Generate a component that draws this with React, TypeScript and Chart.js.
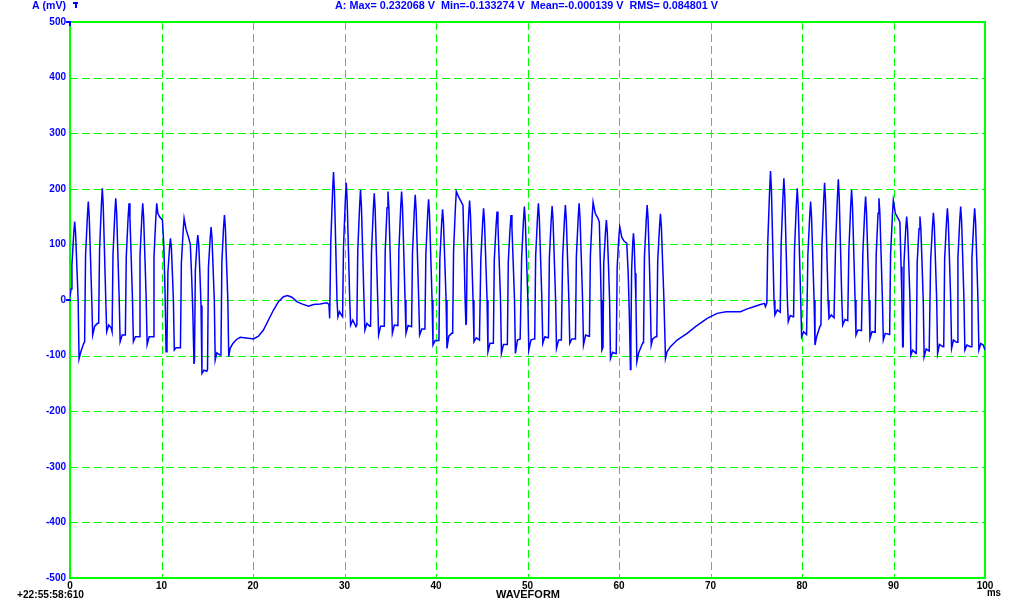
import React, { useEffect, useRef } from "react";
import { Chart, registerables } from "chart.js";

Chart.register(...registerables);

// ---- data: [time in ms, amplitude in mV] ----
const burst1: [number, number][] = [
  [0, 5], [0.12, 20],
  [0.21, 63], [0.41, 120], [0.51, 141], [0.61, 120], [0.76, 56], [0.89, 0], [0.99, -106], [1.2, -92], [1.45, -80],
  [1.6, -75], [1.7, 80], [1.9, 150], [2.0, 177], [2.1, 150], [2.25, 71], [2.38, 0], [2.48, -63], [2.7, -47], [3.0, -42],
  [3.13, -42], [3.23, 90], [3.43, 171], [3.53, 201], [3.63, 171], [3.78, 80], [3.91, 0], [4.01, -57], [4.23, -45], [4.5, -50],
  [4.6, -57], [4.7, 82], [4.9, 156], [5.0, 183], [5.1, 156], [5.25, 73], [5.38, 0], [5.48, -75], [5.7, -63],
  [6.05, -63], [6.15, 78], [6.35, 148], [6.45, 174], [6.55, 148], [6.7, 70], [6.83, 0], [6.93, -75], [7.15, -66],
  [7.55, -66], [7.65, 78], [7.85, 148], [7.95, 174], [8.05, 148], [8.2, 70], [8.33, 0], [8.43, -80], [8.65, -66],
  [9.08, -66], [9.18, 78], [9.38, 148], [9.48, 174], [9.6, 156], [9.77, 150], [10.1, 144], [10.25, 100], [10.38, 20], [10.5, -93],
  [10.6, -80], [10.7, 50], [10.88, 94], [10.98, 111], [11.08, 94], [11.2, 44], [11.3, 0], [11.4, -90], [11.6, -86],
  [12.07, -86], [12.17, 66], [12.37, 125], [12.47, 147], [12.7, 126], [12.95, 113], [13.15, 100], [13.3, 40], [13.42, -20], [13.55, -115],
  [13.6, -110], [13.7, 53], [13.87, 100], [13.97, 117], [14.07, 100], [14.2, 47], [14.32, -10], [14.42, -132], [14.65, -126], [14.95, -128],
  [15.03, -125], [15.13, 59], [15.32, 111], [15.42, 131], [15.52, 111], [15.65, 52], [15.77, 0], [15.87, -108], [16.05, -95], [16.4, -99],
  [16.5, -96], [16.6, 69], [16.78, 130], [16.88, 153], [16.98, 130], [17.12, 61], [17.25, 0], [17.35, -102], [17.5, -87], [17.8, -78], [18.2, -71], [18.6, -67],
];

const quiet1: [number, number][] = [
  [19.5, -69], [20.05, -70], [20.6, -65], [21.14, -54], [21.69, -36], [22.24, -18], [22.78, -3], [23.33, 6],
  [23.77, 8], [24.25, 5], [24.79, -3], [25.34, -7], [26.07, -11], [26.61, -8], [27.34, -7], [28.07, -5],
  [28.3, -8], [28.38, -33],
];

const burst2: [number, number][] = [
  [28.5, 104], [28.7, 196], [28.8, 230], [28.9, 196], [29.05, 92], [29.18, 0], [29.28, -30], [29.45, -21], [29.7, -28],
  [29.79, -30], [29.89, 95], [30.09, 179], [30.19, 211], [30.29, 179], [30.44, 84], [30.57, 0], [30.67, -45], [30.9, -36], [31.25, -48],
  [31.35, -45], [31.45, 89], [31.65, 168], [31.75, 198], [31.85, 168], [32.0, 79], [32.13, 0], [32.23, -54], [32.45, -42], [32.75, -47],
  [32.85, -47], [32.95, 86], [33.15, 163], [33.25, 192], [33.35, 163], [33.5, 77], [33.63, 0], [33.73, -63], [33.95, -47],
  [34.35, -47], [34.45, 88], [34.65, 166], [34.75, 195], [34.85, 166], [35.0, 78], [35.13, 0], [35.23, -60], [35.45, -45],
  [35.84, -46], [35.94, 88], [36.14, 166], [36.24, 195], [36.34, 166], [36.49, 78], [36.62, 0], [36.72, -60], [36.95, -46],
  [37.33, -48], [37.43, 85], [37.63, 161], [37.73, 189], [37.83, 161], [37.98, 76], [38.11, 0], [38.21, -63], [38.45, -52],
  [38.79, -52], [38.89, 81], [39.09, 154], [39.19, 181], [39.29, 154], [39.44, 72], [39.57, 0], [39.67, -81], [39.9, -73],
  [40.32, -73], [40.42, 73], [40.62, 139], [40.72, 163], [40.82, 139], [40.97, 65], [41.1, 0], [41.2, -87], [41.4, -65], [41.7, -60],
  [41.82, -60], [41.92, 88], [42.12, 166], [42.22, 195], [42.48, 185], [42.75, 177], [42.95, 170], [43.08, 80], [43.18, 0], [43.27, -45],
  [43.32, -40], [43.4, 81], [43.57, 152], [43.67, 179], [43.77, 152], [43.92, 72], [44.05, 0], [44.15, -75], [44.4, -68], [44.75, -72],
  [44.8, -72], [44.9, 74], [45.1, 140], [45.2, 165], [45.3, 140], [45.45, 66], [45.58, 0], [45.68, -93], [45.9, -78], [46.2, -78],
  [46.27, -78], [46.37, 72], [46.57, 135], [46.67, 159], [46.77, 135], [46.92, 64], [47.05, 0], [47.15, -96], [47.37, -80], [47.7, -80],
  [47.8, -80], [47.9, 69], [48.1, 130], [48.2, 153], [48.3, 130], [48.45, 61], [48.58, 0], [48.68, -96], [48.9, -72], [49.2, -70],
  [49.26, -70], [49.36, 76], [49.56, 143], [49.66, 168], [49.76, 143], [49.91, 67], [50.04, 0], [50.14, -90], [50.37, -72], [50.7, -70],
  [50.79, -70], [50.89, 78], [51.09, 148], [51.19, 174], [51.29, 148], [51.44, 70], [51.57, 0], [51.67, -78], [51.9, -66], [52.2, -68],
  [52.29, -68], [52.39, 76], [52.59, 144], [52.69, 169], [52.79, 144], [52.94, 68], [53.07, 0], [53.17, -87], [53.4, -72], [53.7, -72],
  [53.74, -72], [53.84, 77], [54.04, 145], [54.14, 171], [54.24, 145], [54.39, 68], [54.52, 0], [54.62, -78], [54.85, -70], [55.15, -70],
  [55.24, -70], [55.34, 78], [55.54, 148], [55.64, 174], [55.74, 148], [55.89, 70], [56.02, 0], [56.12, -81], [56.35, -63], [56.7, -65],
  [56.77, -65], [56.87, 79], [57.07, 150], [57.17, 176], [57.4, 156], [57.7, 147], [57.85, 140], [57.97, 60], [58.05, 0], [58.13, -90],
  [58.25, -85], [58.33, 65], [58.52, 122], [58.62, 144], [58.72, 122], [58.86, 58], [58.97, 0], [59.07, -105], [59.3, -94], [59.6, -96],
  [59.7, -96], [59.8, 59], [59.98, 112], [60.08, 132], [60.3, 113], [60.55, 106], [60.85, 102], [61.0, 50], [61.12, -20], [61.25, -125],
  [61.3, -70], [61.38, 54], [61.5, 102], [61.58, 120], [61.66, 102], [61.76, 48], [61.85, 0], [61.95, -111], [62.15, -95], [62.6, -77],
  [62.68, -77], [62.78, 77], [62.98, 145], [63.08, 171], [63.18, 145], [63.32, 68], [63.42, 0], [63.52, -81], [63.68, -70], [64.0, -66],
  [64.13, -66], [64.23, 70], [64.43, 132], [64.53, 155], [64.63, 132], [64.78, 62], [64.91, 0], [65.08, -105], [65.25, -93],
];

const quiet2: [number, number][] = [
  [65.62, -84], [66.35, -72], [67.45, -60], [68.36, -48], [69.64, -33], [70.73, -24], [71.7, -21], [72.6, -21],
  [73.28, -21], [74.01, -16], [74.73, -12], [75.47, -8], [75.9, -6], [76.0, -12],
];

const burst3: [number, number][] = [
  [76.16, -5], [76.26, 104], [76.46, 197], [76.56, 232], [76.66, 197], [76.81, 93], [76.94, 0], [77.04, -27], [77.3, -18], [77.62, -22],
  [77.72, 99], [77.92, 186], [78.02, 219], [78.12, 186], [78.27, 88], [78.4, 0], [78.5, -39], [78.72, -28], [79.0, -30],
  [79.08, -30], [79.18, 90], [79.38, 171], [79.48, 201], [79.58, 171], [79.73, 80], [79.86, 0], [79.96, -66], [80.18, -57], [80.5, -62],
  [80.54, -62], [80.64, 80], [80.84, 150], [80.94, 177], [81.04, 150], [81.19, 71], [81.32, 0], [81.42, -81], [81.6, -66], [81.95, -48],
  [82.07, -45], [82.17, 95], [82.37, 179], [82.47, 211], [82.57, 179], [82.72, 84], [82.85, 0], [82.95, -33], [83.2, -27], [83.5, -32],
  [83.57, -32], [83.67, 98], [83.87, 184], [83.97, 217], [84.07, 184], [84.22, 87], [84.35, 0], [84.45, -45], [84.7, -35], [85.0, -37],
  [85.02, -37], [85.12, 89], [85.32, 168], [85.42, 198], [85.52, 168], [85.67, 79], [85.8, 0], [85.9, -63], [86.12, -54], [86.5, -55],
  [86.55, -55], [86.65, 84], [86.85, 158], [86.95, 186], [87.05, 158], [87.2, 74], [87.33, 0], [87.43, -69], [87.65, -57], [88.0, -58],
  [88.01, -58], [88.11, 82], [88.31, 156], [88.41, 183], [88.51, 156], [88.66, 73], [88.79, 0], [88.89, -72], [89.1, -60], [89.5, -62],
  [89.58, -62], [89.68, 81], [89.88, 152], [89.98, 179], [90.2, 156], [90.5, 147], [90.7, 140], [90.83, 60], [90.92, 0], [91.0, -84],
  [91.06, -84], [91.15, 68], [91.34, 128], [91.44, 150], [91.54, 128], [91.68, 60], [91.8, 0], [91.9, -99], [92.1, -90], [92.45, -96],
  [92.49, -96], [92.59, 68], [92.79, 128], [92.89, 150], [92.99, 128], [93.13, 60], [93.25, 0], [93.35, -102], [93.57, -88], [93.9, -92],
  [93.96, -92], [94.06, 71], [94.26, 133], [94.36, 157], [94.46, 133], [94.6, 63], [94.72, 0], [94.82, -96], [95.02, -80], [95.4, -84],
  [95.49, -84], [95.59, 74], [95.79, 140], [95.89, 165], [95.99, 140], [96.13, 66], [96.25, 0], [96.35, -87], [96.55, -72], [96.9, -76],
  [96.94, -76], [97.04, 76], [97.24, 143], [97.34, 168], [97.44, 143], [97.58, 67], [97.7, 0], [97.8, -90], [98.02, -81], [98.4, -84],
  [98.47, -84], [98.57, 74], [98.77, 140], [98.87, 165], [98.97, 140], [99.11, 66], [99.23, 0], [99.33, -90], [99.55, -78], [99.8, -81], [100, -90],
];

const xTicks = [0, 10, 20, 30, 40, 50, 60, 70, 80, 90, 100];
const yTicks = [-500, -400, -300, -200, -100, 0, 100, 200, 300, 400, 500];

const axisTitle = "A (mV)";
const statsText = "A: Max= 0.232068 V  Min=-0.133274 V  Mean=-0.000139 V  RMS= 0.084801 V";
const timeStamp = "+22:55:58:610";
const xAxisTitle = "WAVEFORM";
const xUnit = "ms";

const BLUE = "#0000ff";
const GREEN = "#00ff00";
const FONT_FAMILY = '"Liberation Sans", Arial, sans-serif';

function fitText(
  ctx: CanvasRenderingContext2D,
  text: string,
  left: number,
  cy: number,
  width: number,
  color: string,
  size = 10
) {
  ctx.save();
  ctx.font = `bold ${size}px ${FONT_FAMILY}`;
  ctx.fillStyle = color;
  ctx.textBaseline = "middle";
  ctx.textAlign = "left";
  const w = ctx.measureText(text).width;
  ctx.translate(left, cy);
  ctx.scale(width / w, 1);
  ctx.fillText(text, 0, 0);
  ctx.restore();
}

const gridPlugin = {
  id: "scopeGrid",
  beforeDatasetsDraw(chart: any) {
    const { ctx, chartArea, scales } = chart;
    const { left, right, top, bottom } = chartArea;
    ctx.save();
    ctx.strokeStyle = GREEN;
    ctx.lineWidth = 1;
    ctx.setLineDash([8, 4]);
    xTicks.forEach((v) => {
      if (v === xTicks[0] || v === xTicks[xTicks.length - 1]) return;
      const x = Math.round(scales.x.getPixelForValue(v)) + 0.5;
      ctx.beginPath();
      ctx.moveTo(x, top);
      ctx.lineTo(x, bottom);
      ctx.stroke();
    });
    yTicks.forEach((v) => {
      if (v === yTicks[0] || v === yTicks[yTicks.length - 1]) return;
      const y = Math.round(scales.y.getPixelForValue(v)) + 0.5;
      ctx.beginPath();
      ctx.moveTo(left, y);
      ctx.lineTo(right, y);
      ctx.stroke();
    });
    ctx.setLineDash([]);
    ctx.lineWidth = 2;
    const l = Math.round(left), r = Math.round(right), t = Math.round(top), b = Math.round(bottom);
    ctx.strokeRect(l, t, r - l, b - t);
    ctx.restore();
  },
  afterDraw(chart: any) {
    const { ctx, scales, chartArea } = chart;
    const yTop = Math.round(scales.y.getPixelForValue(500));
    const yZero = Math.round(scales.y.getPixelForValue(0));
    const l = Math.round(chartArea.left);
    ctx.save();
    ctx.fillStyle = BLUE;
    ctx.fillRect(l - 4, yTop - 1, 5, 2);
    ctx.fillRect(l - 1, yTop - 1, 2, 5);
    ctx.fillRect(l - 4, yZero - 1, 5, 2);
    // small cursor icon next to the axis title
    ctx.fillRect(73, 2, 5, 2);
    ctx.fillRect(75, 2, 2, 6);
    ctx.restore();
    fitText(ctx, axisTitle, 32, 6, 34, BLUE, 11);
    fitText(ctx, statsText, 335, 6.5, 383, BLUE, 10);
    fitText(ctx, timeStamp, 17, 595.5, 67, "#000000", 10);
    fitText(ctx, xAxisTitle, 496, 595, 64, "#000000", 10);
    fitText(ctx, xUnit, 987, 593.5, 14, "#000000", 10);
  },
};

export default function App() {
  const canvasRef = useRef<HTMLCanvasElement | null>(null);

  useEffect(() => {
    if (!canvasRef.current) return;
    const points = [...burst1, ...quiet1, ...burst2, ...quiet2, ...burst3].map(([x, y]) => ({ x, y }));
    const chart = new Chart(canvasRef.current, {
      type: "line",
      data: {
        datasets: [
          {
            data: points,
            borderColor: BLUE,
            borderWidth: 1.5,
            pointRadius: 0,
            tension: 0,
            fill: false,
          },
        ],
      },
      options: {
        animation: false,
        responsive: false,
        devicePixelRatio: 1,
        parsing: false as any,
        layout: { padding: { left: 0, right: 35, top: 22, bottom: 0 } },
        plugins: { legend: { display: false }, tooltip: { enabled: false } },
        scales: {
          x: {
            type: "linear",
            min: 0,
            max: 100,
            afterFit: (scale: any) => {
              scale.height = 26;
            },
            afterBuildTicks: (scale: any) => {
              scale.ticks = xTicks.map((value) => ({ value }));
            },
            ticks: {
              color: "#000000",
              font: { family: FONT_FAMILY, size: 10, weight: "bold" },
              padding: 2,
              maxRotation: 0,
              autoSkip: false,
              callback: (v: any) => String(v),
            },
            grid: { display: false, drawTicks: false },
            border: { display: false },
          },
          y: {
            type: "linear",
            min: -500,
            max: 500,
            afterFit: (scale: any) => {
              scale.width = 70;
            },
            afterBuildTicks: (scale: any) => {
              scale.ticks = yTicks.map((value) => ({ value }));
            },
            ticks: {
              color: BLUE,
              font: { family: FONT_FAMILY, size: 10, weight: "bold" },
              padding: 4,
              autoSkip: false,
              callback: (v: any) => String(v),
            },
            grid: { display: false, drawTicks: false },
            border: { display: false },
          },
        },
      },
      plugins: [gridPlugin],
    });
    return () => chart.destroy();
  }, []);

  return (
    <div style={{ position: "fixed", left: 0, top: 0, width: 1020, height: 604, background: "#ffffff" }}>
      <canvas ref={canvasRef} width={1020} height={604} style={{ display: "block" }} />
    </div>
  );
}
